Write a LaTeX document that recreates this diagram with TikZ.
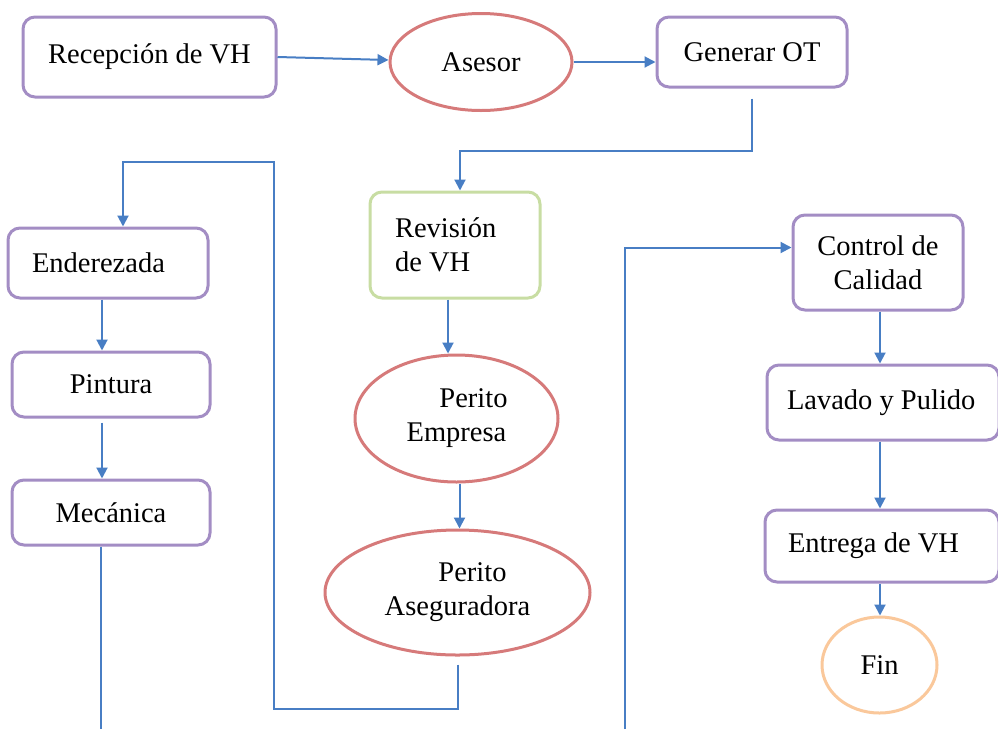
\documentclass[tikz,border=0pt]{standalone}
\usepackage{fontspec}
\setmainfont{Liberation Serif}
\usetikzlibrary{arrows.meta,shapes.geometric}
\definecolor{pur}{RGB}{163,141,196}
\definecolor{redl}{RGB}{214,122,122}
\definecolor{grn}{RGB}{200,221,163}
\definecolor{org}{RGB}{250,200,155}
\definecolor{blu}{RGB}{72,126,196}
\begin{document}
\begin{tikzpicture}[x=1pt,y={(0pt,-1pt)},
  every node/.style={font=\fontsize{28.5}{34}\selectfont, inner sep=0pt},
  box/.style={draw=pur, line width=3pt, rounded corners=12pt, fill=white},
  oval/.style={ellipse, draw=redl, line width=3pt, fill=white, align=center},
  conn/.style={draw=blu, line width=2pt, -{Triangle[length=11pt,width=11pt]}},
  plainline/.style={draw=blu, line width=2pt}]
\useasboundingbox (0,0) rectangle (998,729);

% nodes
\node[box, minimum width=253pt, minimum height=80pt] (rec) at (149.5,57) {Recepción de VH};
\node[oval, minimum width=182pt, minimum height=97pt] (ases) at (481,62) {Asesor};
\node[box, minimum width=190pt, minimum height=70pt] (gen) at (752,52) {Generar OT};
\node[box, draw=grn, minimum width=170pt, minimum height=106pt, text width=120pt, align=left] (rev) at (455,245) {\spaceskip=0pt\relax Revisión\\de VH};
\node[oval, minimum width=203pt, minimum height=127pt] (pe) at (456.5,418.5) {\hspace*{34pt}Perito\\Empresa};
\node[oval, minimum width=265pt, minimum height=125pt] (pa) at (457.5,592.5) {\hspace*{30pt}Perito\\Aseguradora};
\node[box, minimum width=200pt, minimum height=70pt, text width=152pt, align=left] (ender) at (108,263) {Enderezada};
\node[box, minimum width=198pt, minimum height=65pt] (pint) at (111,384.5) {Pintura};
\node[box, minimum width=198pt, minimum height=65pt] (mec) at (111,512.5) {Mecánica};
\node[box, minimum width=170pt, minimum height=95pt, align=center] (ctrl) at (878,262.5) {Control de\\Calidad};
\node[box, minimum width=232pt, minimum height=75pt, text width=192pt, align=left] (lav) at (883,402.5) {\spaceskip=0pt\relax\mbox{Lavado y Pulido}};
\node[box, minimum width=234pt, minimum height=72pt, text width=188pt, align=left] (ent) at (882,546) {\spaceskip=0pt\relax\mbox{Entrega de VH}};
\node[oval, draw=org, minimum width=115pt, minimum height=96pt] (fin) at (879.5,665) {Fin};

% helper coordinates
\coordinate (g1) at (752,151);
\coordinate (l1) at (274,709);
\coordinate (l2) at (274,162);
\coordinate (m1) at (101,729);
\coordinate (q1) at (625,729);

% connectors
\draw[conn] (rec.east) -- ([yshift=2pt]ases.west);
\draw[conn] (ases.east) -- (ases.east -| gen.west);
\draw[conn] ([yshift=-10pt]gen.south) -- (g1) -| ([xshift=5pt]rev.north);
\draw[conn] ([xshift=-7pt]rev.south) -- ([xshift=-7pt]rev.south |- pe.north);
\draw[conn] ([xshift=3pt]pe.south) -- ([xshift=3pt]pe.south |- pa.north);
\draw[conn] ([yshift=-8pt]pa.south) |- (l1) -- (l2) -| ([xshift=15pt]ender.north);
\draw[conn] ([xshift=-6pt]ender.south) -- ([xshift=-6pt]ender.south |- pint.north);
\draw[conn] ([xshift=-9pt,yshift=-4pt]pint.south) -- ([xshift=-9pt]pint.south |- mec.north);
\draw[plainline] (mec.south -| m1) -- (m1);
\draw[conn] (q1) |- ([yshift=15pt]ctrl.west);
\draw[conn] ([xshift=2pt]ctrl.south) -- ([xshift=2pt]ctrl.south |- lav.north);
\draw[conn] ([xshift=-3pt]lav.south) -- ([xshift=-3pt]lav.south |- ent.north);
\draw[conn] ([xshift=-2pt]ent.south) -- ([xshift=-2pt]ent.south |- fin.north);
\end{tikzpicture}
\end{document}
